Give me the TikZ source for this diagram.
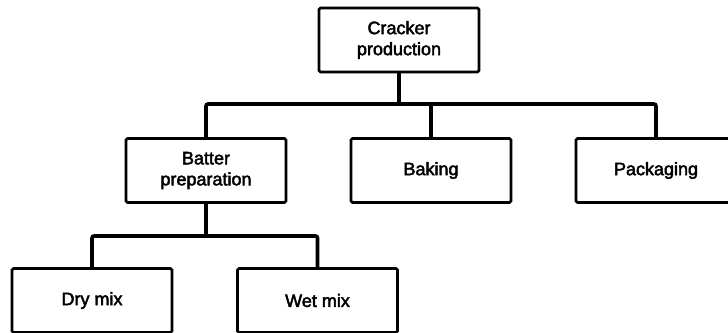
\documentclass[tikz,border=0pt]{standalone}
\usepackage{fontspec}
\setmainfont{Liberation Sans}[FakeBold=2.5]
\begin{document}
\begin{tikzpicture}[x=1pt,y=-1pt,
  box/.style={draw, line width=2.8pt, rounded corners=1.5pt, minimum width=160pt, minimum height=64pt, inner sep=0pt, align=center, font=\fontsize{18}{21}\selectfont},
  conn/.style={line width=3.6pt, rounded corners=2pt}]
\useasboundingbox (0,0) rectangle (728,332);
\clip (0,0) rectangle (728,332);
\node[box] (top) at (399,40) {Cracker\\production};
\node[box] (bat) at (206,170.5) {Batter\\preparation};
\node[box] (bake) at (431,170.5) {Baking};
\node[box] (pack) at (656,170.5) {Packaging};
\node[box] (dry) at (92,300.5) {Dry mix};
\node[box] (wet) at (317.5,300.5) {Wet mix};
\coordinate (j1) at (399,104);
\coordinate (j2) at (206,236);
\draw[conn] (top.south) -- (j1);
\draw[conn] (bat.north) |- (j1) -| (pack.north);
\draw[conn] (bake.north) -- (bake.north |- j1);
\draw[conn] (bat.south) -- (j2);
\draw[conn] (dry.north) |- (j2) -| (wet.north);
\end{tikzpicture}
\end{document}
